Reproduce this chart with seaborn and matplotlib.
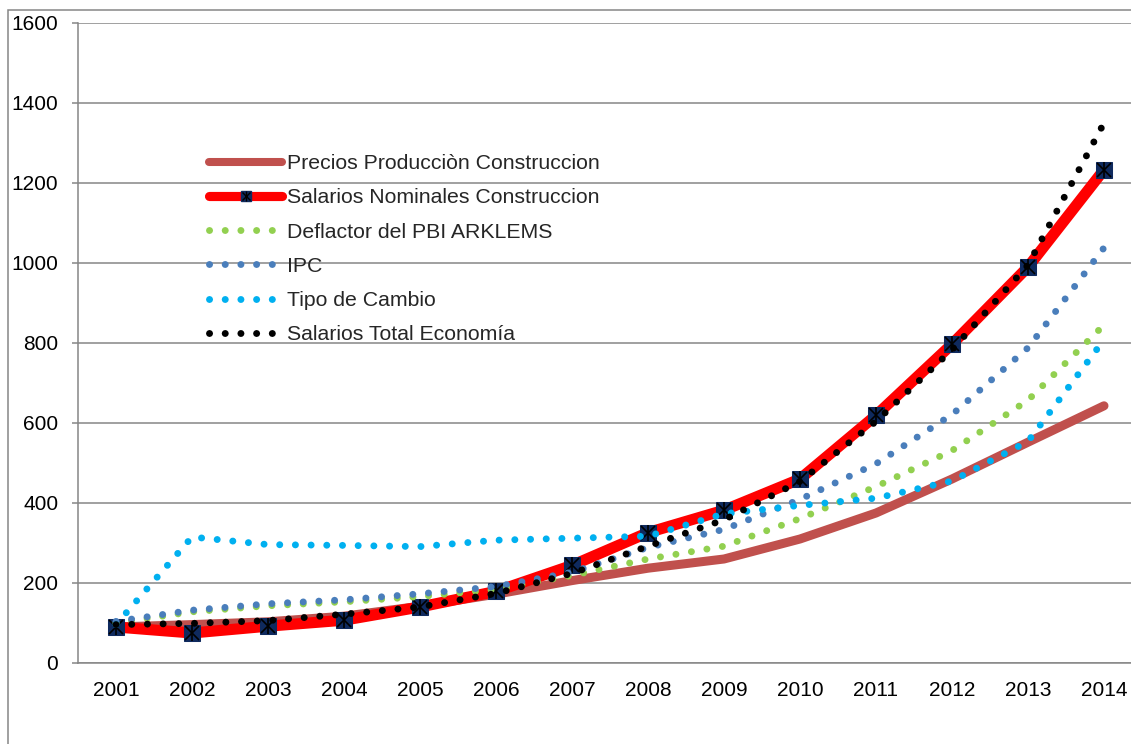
import numpy as np
import pandas as pd
import matplotlib
matplotlib.use("Agg")
import matplotlib.pyplot as plt
import seaborn as sns
from matplotlib.lines import Line2D
from matplotlib.patches import Rectangle
from matplotlib.legend_handler import HandlerTuple

# ---------------- data ----------------
years = [2001, 2002, 2003, 2004, 2005, 2006, 2007, 2008, 2009, 2010, 2011, 2012, 2013, 2014]
precios_prod = [90, 96, 103, 117, 142, 172, 206, 237, 260, 310, 375, 460, 552, 643]
salarios_nom = [90, 75, 92, 107, 140, 179, 244, 326, 382, 460, 619, 797, 990, 1233]
deflactor = [100, 128, 143, 153, 166, 184, 219, 260, 292, 361, 441, 531, 657, 845]
ipc = [104, 132, 148, 158, 173, 191, 227, 289, 334, 409, 498, 621, 788, 1038]
tipo_cambio = [96, 315, 296, 294, 291, 307, 312, 317, 373, 394, 412, 455, 554, 808]
salarios_tot = [96, 99, 106, 122, 140, 174, 224, 292, 358, 454, 604, 783, 995, 1350]
labels = ["Precios Producciòn Construccion", "Salarios Nominales Construccion",
          "Deflactor del PBI ARKLEMS", "IPC", "Tipo de Cambio", "Salarios Total Economía"]
yticks = [0, 200, 400, 600, 800, 1000, 1200, 1400, 1600]

df = pd.DataFrame({"year": years, "precios": precios_prod, "salnom": salarios_nom,
                   "defl": deflactor, "ipc": ipc, "tc": tipo_cambio, "saltot": salarios_tot})

sns.set_style("white")
plt.rcParams["font.family"] = ["Liberation Sans", "DejaVu Sans"]

W, H = 1131, 744
FS = 15
fig = plt.figure(figsize=(W / 100, H / 100), dpi=100)
ax = fig.add_axes([78 / W, 81 / H, 1064 / W, 640 / H])

GRID = "#868686"
c_prec = "#C0504D"
c_red = "#FF0000"
c_navy = "#0F2A5E"
c_green = "#92D050"
c_ipc = "#4A7EBB"
c_tc = "#00B0F0"
c_tot = "#000000"

DOT_LW = 5.0
DOT = (0, (0.01, 2.25))

sns.lineplot(data=df, x="year", y="precios", ax=ax, color=c_prec, lw=6.5,
             solid_capstyle="round", solid_joinstyle="round", zorder=3)
sns.lineplot(data=df, x="year", y="salnom", ax=ax, color=c_red, lw=8.0,
             solid_capstyle="round", solid_joinstyle="round", zorder=4)
sns.lineplot(data=df, x="year", y="salnom", ax=ax, lw=0, marker="s", ms=12,
             mfc=c_navy, mec=c_navy, zorder=5)
sns.lineplot(data=df, x="year", y="salnom", ax=ax, lw=0, marker="x", ms=9.5,
             mec="black", mew=1.2, zorder=5.1)
sns.lineplot(data=df, x="year", y="salnom", ax=ax, lw=0, marker="|", ms=11.5,
             mec="black", mew=1.2, zorder=5.1)
for col, c, z in [("defl", c_green, 6), ("ipc", c_ipc, 7), ("tc", c_tc, 8), ("saltot", c_tot, 9)]:
    sns.lineplot(data=df, x="year", y=col, ax=ax, color=c, lw=DOT_LW, linestyle=DOT,
                 dash_capstyle="round", zorder=z)

ax.set_xlim(2000.5, 2014.5)
ax.set_ylim(0, 1600)
ax.set_xlabel("")
ax.set_ylabel("")
ax.set_xticks(years)
ax.set_xticklabels([str(y) for y in years])
ax.set_xticks(np.arange(2000.5, 2015, 1.0), minor=True)
ax.set_yticks(yticks)
ax.set_yticklabels([str(v) for v in yticks])
ax.tick_params(axis="x", which="major", length=0, pad=13, labelsize=FS, labelcolor="black")
ax.tick_params(axis="x", which="minor", length=4.3, width=1.1, color=GRID, direction="out")
ax.tick_params(axis="y", which="major", length=4.3, width=1.1, color=GRID, pad=10,
               labelsize=FS, labelcolor="black", direction="out", left=True)
ax.grid(axis="y", color=GRID, lw=1.1, zorder=0)
ax.grid(axis="x", visible=False)
ax.set_axisbelow(True)
for s in ["top", "right"]:
    ax.spines[s].set_visible(False)
for s in ["left", "bottom"]:
    ax.spines[s].set_color(GRID)
    ax.spines[s].set_linewidth(1.1)
if ax.get_legend() is not None:
    ax.get_legend().remove()

# outer chart border
fig.patches.append(Rectangle((8 / W, -0.2), 1.5, 734 / H + 0.2, transform=fig.transFigure,
                             fill=False, edgecolor=GRID, lw=1.1, zorder=0))

handles = [
    Line2D([], [], color=c_prec, lw=5.8, solid_capstyle="round"),
    (Line2D([], [], color=c_red, lw=6.6, solid_capstyle="round"),
     Line2D([], [], ls="none", marker="s", ms=7, mfc=c_navy, mec=c_navy),
     Line2D([], [], ls="none", marker="x", ms=5.5, mec="black", mew=1.0),
     Line2D([], [], ls="none", marker="|", ms=6.5, mec="black", mew=1.0)),
    Line2D([], [], color=c_green, lw=DOT_LW, linestyle=DOT, dash_capstyle="round"),
    Line2D([], [], color=c_ipc, lw=DOT_LW, linestyle=DOT, dash_capstyle="round"),
    Line2D([], [], color=c_tc, lw=DOT_LW, linestyle=DOT, dash_capstyle="round"),
    Line2D([], [], color=c_tot, lw=DOT_LW, linestyle=DOT, dash_capstyle="round"),
]
leg = fig.legend(handles, labels, loc="upper left", bbox_to_anchor=(209 / W, (H - 154) / H),
                 bbox_transform=fig.transFigure, frameon=False, fontsize=15.3,
                 handlelength=3.45, handletextpad=0.22, labelspacing=0.72, borderpad=0,
                 borderaxespad=0, handler_map={tuple: HandlerTuple(ndivide=1)})

fig.savefig("out.png", dpi=100)
